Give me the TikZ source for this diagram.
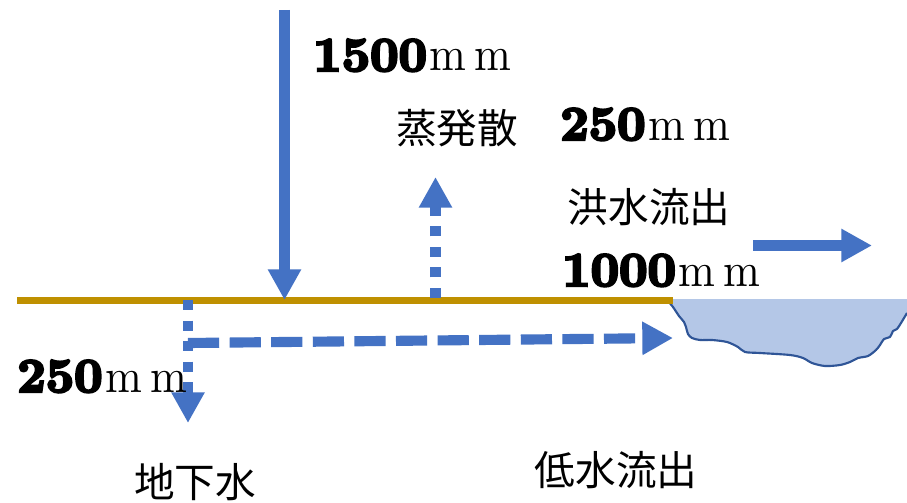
\documentclass[tikz,border=0pt]{standalone}
\usepackage{fontspec}
\usepackage{graphicx}
\usetikzlibrary{arrows.meta}
\newfontfamily\jfont{Noto Sans CJK JP}
\newfontfamily\numfont{lmroman10-bold.otf}[FakeBold=5]
\newfontfamily\unitfont{lmroman10-regular.otf}
\definecolor{flow}{HTML}{4472C4}
\definecolor{ground}{HTML}{BF9000}
\definecolor{water}{HTML}{B4C7E7}
\definecolor{shore}{HTML}{2F5597}
% amount label: heavy digits followed by a spaced "mm"
\newcommand{\amount}[1]{%
  \scalebox{1.06}[1.04]{\fontsize{35}{36}\numfont #1}\hspace{2pt}%
  \scalebox{0.92}[1]{\fontsize{36}{37}\unitfont m}\hspace{6pt}%
  \scalebox{0.92}[1]{\fontsize{36}{37}\unitfont m}}
\begin{document}
\begin{tikzpicture}[x=0.75pt,y=-0.75pt,
  flowline/.style={draw=flow, line width=8.2pt,
    -{Triangle[width=23.5pt,length=23pt]}},
  dotted flow/.style={flowline, line width=7.8pt, dash pattern=on 7.8pt off 7.6pt},
  dashed flow/.style={flowline, line width=7.6pt, dash pattern=on 23.4pt off 7.8pt},
  amountlabel/.style={anchor=base west, inner sep=0pt},
  jlabel/.style={inner sep=0pt, font=\jfont\fontsize{30.5}{32}\selectfont}]
  \useasboundingbox[fill=white] (0,0) rectangle (907,503);

  % water body
  \fill[water] plot[smooth, tension=0.5] coordinates {(668,301) (673,307) (679,316) (684,322) (686,327) (688,334) (692,338) (700,340) (712,340) (727,342) (738,347) (745,352) (760,353) (790,355) (803,358) (812,363) (825,366) (840,365) (850,362) (858,358) (868,356) (876,350) (880,345) (884,339) (890,337) (893,331) (897,329) (901,323) (904,318) (907,313)}
    -- (907,299) -- (668,299) -- cycle;
  \draw[shore, line width=1.6pt, line join=round]
    plot[smooth, tension=0.5] coordinates {(668,301) (673,307) (679,316) (684,322) (686,327) (688,334) (692,338) (700,340) (712,340) (727,342) (738,347) (745,352) (760,353) (790,355) (803,358) (812,363) (825,366) (840,365) (850,362) (858,358) (868,356) (876,350) (880,345) (884,339) (890,337) (893,331) (897,329) (901,323) (904,318) (907,313)};

  % ground surface
  \coordinate (gl) at (17,300.5);
  \coordinate (gr) at (673,300.5);
  \draw[ground, line width=5.4pt] (gl) -- (gr);

  % flow end points
  \coordinate (rainTop) at (284.5,10);
  \coordinate (rainEnd) at (284.5,300);
  \coordinate (evapStart) at (435.5,298);
  \coordinate (evapEnd) at (435.5,177);
  \coordinate (gwStart) at (188,300);
  \coordinate (gwEnd) at (188,423);
  \coordinate (baseStart) at (188,343);
  \coordinate (baseEnd) at (673,338);
  \coordinate (floodStart) at (753,245.5);
  \coordinate (floodEnd) at (872,245.5);

  \draw[flowline] (rainTop) -- (rainEnd);
  \draw[dotted flow] (evapStart) -- (evapEnd);
  \draw[dotted flow] (gwStart) -- (gwEnd);
  \draw[dashed flow] (baseStart) -- (baseEnd);
  \draw[flowline] (floodStart) -- (floodEnd);

  % labels
  \node[amountlabel] (rain) at (313,71) {\amount{1500}};
  \node[jlabel] (evap) at (457,128) {蒸発散};
  \node[amountlabel] (evapAmt) at (560,140) {\amount{250}};
  \node[jlabel] (flood) at (649,207) {洪水流出};
  \node[amountlabel] (floodAmt) at (562,286) {\amount{1000}};
  \node[amountlabel] (gwAmt) at (17,392) {\amount{250}};
  \node[jlabel] (gw) at (195,482) {地下水};
  \node[jlabel] (base) at (616,470) {低水流出};
\end{tikzpicture}
\end{document}
